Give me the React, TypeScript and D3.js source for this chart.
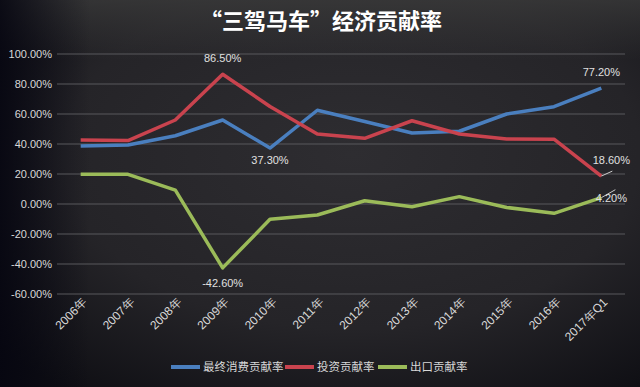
import React from 'react';
import * as d3 from 'd3';

const categories = ['2006年', '2007年', '2008年', '2009年', '2010年', '2011年', '2012年', '2013年', '2014年', '2015年', '2016年', '2017年Q1'];
const consumption = [38.7, 39.3, 45.5, 56.0, 37.3, 62.5, 55.0, 47.3, 48.5, 60.0, 64.9, 77.2];
const investment = [42.7, 42.3, 56.0, 86.5, 65.0, 46.7, 43.8, 55.5, 46.7, 43.3, 43.2, 18.6];
const exports = [19.8, 19.8, 9.3, -42.6, -10.2, -7.3, 2.2, -1.8, 4.9, -2.3, -6.2, 4.2];
const yTicks = [100, 80, 60, 40, 20, 0, -20, -40, -60];
const seriesNames = ['最终消费贡献率', '投资贡献率', '出口贡献率'];
const colors = ['#4a7fbf', '#c9434e', '#9bbb59'];

const W = 640;
const H = 387;
const cn = '"Noto Sans CJK SC", "Noto Sans", sans-serif';
const num = '"Liberation Sans", "Noto Sans", sans-serif';

export default function App() {
  const x = d3.scaleBand<string>().domain(categories).range([57, 625]);
  const y = d3.scaleLinear().domain([-60, 100]).range([294, 54]);
  const cx = (c: string) => (x(c) as number) + x.bandwidth() / 2;

  const line = d3
    .line<number>()
    .x((_, i) => cx(categories[i]))
    .y((d) => y(d));

  const series = [consumption, investment, exports];
  const last = categories[categories.length - 1];

  // data labels placed next to selected points
  const labels = [
    { text: '86.50%', px: cx('2009年'), py: y(86.5) - 12, anchor: 'middle' },
    { text: '37.30%', px: cx('2010年'), py: y(37.3) + 16, anchor: 'middle' },
    { text: '-42.60%', px: cx('2009年'), py: y(-42.6) + 19, anchor: 'middle' },
    { text: '77.20%', px: cx(last), py: y(77.2) - 12, anchor: 'middle' },
    { text: '18.60%', px: cx(last) + 10, py: y(18.6) - 12, anchor: 'middle' },
    { text: '4.20%', px: cx(last) + 10, py: y(4.2) + 4, anchor: 'middle' },
  ];

  const legendX = [171, 285, 378];

  return (
    <svg width={W} height={H} style={{ position: 'absolute', left: 0, top: 0 }}>
      <defs>
        <radialGradient id="bg" cx="55%" cy="40%" r="75%">
          <stop offset="0%" stopColor="#2e2d31" />
          <stop offset="60%" stopColor="#252428" />
          <stop offset="100%" stopColor="#0f0f14" />
        </radialGradient>
        <linearGradient id="top" x1="0" y1="0" x2="0" y2="1">
          <stop offset="0%" stopColor="#3a3a3a" stopOpacity={0.8} />
          <stop offset="100%" stopColor="#3a3a3a" stopOpacity={0} />
        </linearGradient>
        <linearGradient id="left" x1="0" y1="0" x2="1" y2="0">
          <stop offset="0%" stopColor="#050510" stopOpacity={0.85} />
          <stop offset="100%" stopColor="#050510" stopOpacity={0} />
        </linearGradient>
      </defs>
      <rect width={W} height={H} fill="url(#bg)" />
      <rect width={W} height={60} fill="url(#top)" />
      <rect width={90} height={H} fill="url(#left)" />

      <text x={321} y={29} textAnchor="middle" fill="#ffffff" fontFamily={cn} fontWeight="bold" fontSize={22}>
        “三驾马车”经济贡献率
      </text>

      {yTicks.map((t) => (
        <g key={t}>
          <line x1={57} x2={625} y1={y(t)} y2={y(t)} stroke="#58585c" strokeWidth={1} />
          <text x={52} y={y(t) + 4} textAnchor="end" fill="#d8d8d8" fontFamily={num} fontSize={11}>
            {t.toFixed(2)}%
          </text>
        </g>
      ))}

      {categories.map((c) => (
        <text
          key={c}
          transform={`translate(${cx(c) + 7},${303}) rotate(-45)`}
          textAnchor="end"
          fill="#d8d8d8"
          fontFamily={num}
          fontSize={12}
        >
          {c}
        </text>
      ))}

      {series.map((s, i) => (
        <path key={i} d={line(s) ?? ''} fill="none" stroke={colors[i]} strokeWidth={3.5} strokeLinejoin="round" />
      ))}

      {/* leader lines for last points */}
      <line x1={cx(last)} y1={y(18.6)} x2={cx(last) + 11} y2={y(18.6) - 5} stroke="#cccccc" strokeWidth={1} />
      <line x1={cx(last)} y1={y(4.2)} x2={cx(last) + 14} y2={y(4.2) - 8} stroke="#cccccc" strokeWidth={1} />

      {labels.map((l) => (
        <text key={l.text} x={l.px} y={l.py} textAnchor={l.anchor} fill="#e0e0e0" fontFamily={num} fontSize={11}>
          {l.text}
        </text>
      ))}

      {seriesNames.map((n, i) => (
        <g key={n}>
          <line x1={legendX[i]} x2={legendX[i] + 29} y1={367} y2={367} stroke={colors[i]} strokeWidth={4} />
          <text x={legendX[i] + 32} y={371} fill="#d8d8d8" fontFamily={cn} fontSize={11.5}>
            {n}
          </text>
        </g>
      ))}
    </svg>
  );
}
